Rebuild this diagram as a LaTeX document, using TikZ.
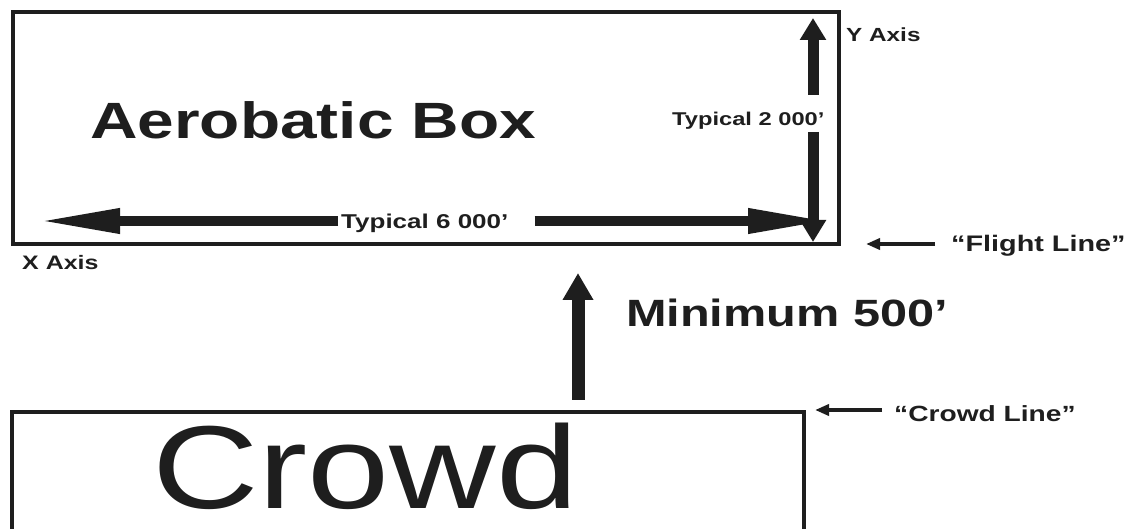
\documentclass[tikz,border=0pt]{standalone}
\usepackage{fontspec}
\usepackage{graphicx}
\setmainfont{Liberation Sans}
\usetikzlibrary{arrows.meta}
\definecolor{ink}{RGB}{30,30,30}
% widened lettering used throughout the chart
\newcommand{\widetext}[3][1.28]{\scalebox{#1}[1]{\fontsize{#2}{#2}\selectfont #3}}
\tikzset{
  frame/.style={draw=ink, line width=4pt, inner sep=0pt, fill=none},
  lbl/.style={inner sep=0pt, anchor=base west, text=ink, font=\bfseries},
  bigarrow/.style={draw=ink, line width=10pt,
    -{Triangle[length=82pt, width=23pt]}},
  vertarrow/.style={draw=ink, line width=11pt,
    -{Triangle[length=22pt, width=25pt]}},
  minarrow/.style={draw=ink, line width=13pt,
    -{Triangle[length=27pt, width=29pt]}},
  pointer/.style={draw=ink, line width=4pt,
    -{Triangle[length=14pt, width=11pt]}},
}
\begin{document}
\begin{tikzpicture}[x=1pt, y=-1pt]
\useasboundingbox (0,0) rectangle (1128,529);

% aerobatic box
\node[frame, minimum width=826.5pt, minimum height=231.5pt] (box) at (425.75,128.25) {};
\node[lbl] (title) at (90,139) {\widetext[1.29]{51}{Aerobatic Box}};

% x axis dimension
\node[lbl] (xdim) at (341,229) {\widetext[1.3]{20}{Typical 6 000’}};
\coordinate (xleft) at (38,221);
\coordinate (xright) at (830,221);
\draw[bigarrow] (xdim.west |- xleft) ++(-3,0) -- (xleft);
\draw[bigarrow] (xdim.east |- xright) ++(26,0) -- (xright);
\node[lbl] (xaxis) at (22,270) {\widetext{19.5}{X Axis}};

% y axis dimension
\node[lbl] (ydim) at (672,126) {\widetext{18.5}{Typical 2 000’}};
\coordinate (ytop) at (813,18);
\coordinate (ybot) at (813,242);
\coordinate (ygapt) at (813,95);
\coordinate (ygapb) at (813,132);
\draw[vertarrow] (ygapt) -- (ytop);
\draw[vertarrow] (ygapb) -- (ybot);
\node[lbl] (yaxis) at (846,42) {\widetext{19}{Y Axis}};

% flight line pointer
\node[lbl] (flight) at (951,252) {\widetext{22.5}{“Flight Line”}};
\coordinate (ftip) at (866,244);
\draw[pointer] (flight.west |- ftip) ++(-16,0) -- (ftip);

% minimum separation
\coordinate (mtail) at (578,400);
\coordinate (mtip) at (578,273);
\draw[minarrow] (mtail) -- (mtip);
\node[lbl] (minimum) at (626,327) {\widetext{38}{Minimum 500’}};

% crowd area
\node[draw=ink, line width=3.5pt, inner sep=0pt, minimum width=792pt,
      minimum height=130pt] (crowdbox) at (408,477) {};
\node[inner sep=0pt, anchor=base west, text=ink] (crowd) at (152,508)
  {\widetext[1.25]{118}{Crowd}};

% crowd line pointer
\node[lbl] (crowdline) at (894,421) {\widetext{22}{“Crowd Line”}};
\coordinate (ctip) at (815,410);
\draw[pointer] (crowdline.west |- ctip) ++(-12,0) -- (ctip);
\end{tikzpicture}
\end{document}
